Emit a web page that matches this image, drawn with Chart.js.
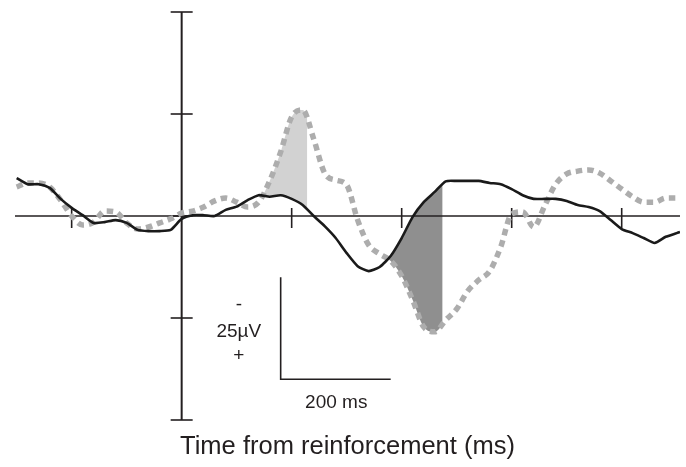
<!DOCTYPE html>
<html><head><meta charset="utf-8">
<script src="https://cdn.jsdelivr.net/npm/chart.js@4.4.1/dist/chart.umd.min.js"></script>
<style>html,body{margin:0;padding:0;background:#fff;}canvas{display:block;}</style>
</head><body>
<canvas id="c" width="686" height="467"></canvas>
<script>
// time (ms) of each sample
const times = [-300,-280,-260,-240,-220,-200,-180,-160,-140,-120,-100,-80,-60,-40,-20,0,20,40,60,80,100,120,140,160,180,200,220,240,260,280,300,320,340,360,380,400,420,440,460,480,500,520,540,560,580,600,620,640,660,680,700,720,740,760,780,800,820,840,860,880,900,906];
// solid black waveform (µV, negative plotted up)
const solidValues = [-9.3,-7.8,-7.8,-6.9,-4.2,-2.0,-0.2,1.7,1.5,1.0,1.7,3.4,3.7,3.7,3.4,0.7,-0.2,-0.2,0,-1.5,-2.3,-3.9,-5.1,-4.7,-5.1,-4.2,-2.7,0,2.5,5.4,9.1,12.3,13.5,12.5,9.8,5.4,0.2,-3.4,-5.9,-8.5,-8.6,-8.6,-8.6,-8.1,-7.8,-6.6,-5.1,-4.2,-4.2,-4.2,-3.7,-2.7,-2.2,-1.2,1.0,3.2,4.2,5.4,6.6,5.1,4.2,3.9];
// dashed grey waveform (µV)
const dashedValues = [-7.1,-8.1,-8.1,-7.1,-3.9,0,2.2,1.5,-1.2,-1.0,1.7,3.2,2.7,1.7,0.7,-0.7,-1.2,-2.2,-3.7,-4.4,-3.4,-2.2,-3.4,-8.6,-15.7,-24.3,-26.0,-18.9,-10.5,-8.8,-7.6,1.0,7.1,9.3,11.0,14.7,20.6,27.2,28.4,25.5,22.8,18.4,15.7,13.5,7.6,-0.5,-1.0,2.7,-2.5,-7.8,-10.3,-11.0,-11.3,-10.5,-8.6,-6.6,-4.7,-3.4,-3.4,-4.4,-4.4,-4.4];
// axis ticks
const yTickValues = [-50,-25,0,25,50];
const xTickValues = [-200,200,400,600,800];
// shaded windows (ms)
const lightWindow = [147, 228];
const darkWindow = [375, 474];
// calibration bar
const barStartTime = 180, barTimeLength = 200;
const barStartVolt = 15, barVoltLength = 25;
const barLabels = ['-', '25\u00b5V', '+'];
const barTimeLabel = '200 ms';
const xTitle = 'Time from reinforcement (ms)';

const FONT = 'Liberation Sans, Arial, Helvetica, sans-serif';
const INK = '#231f20';

const erpPlugin = {
  id: 'erpAxes',
  afterDatasetDraw(chart, args) {
    if (args.index !== 2) return;
    const {ctx, chartArea: a, scales: {x}} = chart;
    ctx.save();
    ctx.beginPath();
    const l0 = x.getPixelForValue(lightWindow[0]), l1 = x.getPixelForValue(lightWindow[1]);
    const d0 = x.getPixelForValue(darkWindow[0]), d1 = x.getPixelForValue(darkWindow[1]);
    ctx.rect(l0, a.top, l1 - l0, a.bottom - a.top);
    ctx.rect(d0, a.top, d1 - d0, a.bottom - a.top);
    ctx.clip();
  },
  beforeDatasetDraw(chart, args) {
    if (args.index !== 1) return;
    const {ctx, chartArea: a, scales: {x, y}} = chart;
    ctx.restore();
    ctx.save();
    ctx.strokeStyle = INK;
    const x0 = x.getPixelForValue(0), y0 = y.getPixelForValue(0);
    // horizontal axis
    ctx.lineWidth = 1.6;
    ctx.beginPath(); ctx.moveTo(a.left, y0); ctx.lineTo(a.right, y0); ctx.stroke();
    xTickValues.forEach(t => {
      const px = x.getPixelForValue(t);
      ctx.beginPath(); ctx.moveTo(px, y0 - 8); ctx.lineTo(px, y0 + 12); ctx.stroke();
    });
    // vertical axis
    ctx.lineWidth = 2;
    ctx.beginPath(); ctx.moveTo(x0, y.getPixelForValue(yTickValues[0])); ctx.lineTo(x0, y.getPixelForValue(yTickValues[yTickValues.length-1])); ctx.stroke();
    ctx.lineWidth = 1.6;
    yTickValues.forEach(v => {
      const py = y.getPixelForValue(v);
      ctx.beginPath(); ctx.moveTo(x0 - 11, py); ctx.lineTo(x0 + 11, py); ctx.stroke();
    });
    ctx.restore();
  },
  afterDatasetsDraw(chart) {
    const {ctx, scales: {x, y}} = chart;
    ctx.save();
    ctx.fillStyle = INK;
    ctx.font = '19px ' + FONT;
    ctx.textAlign = 'center';
    ctx.textBaseline = 'middle';
    const lx = x.getPixelForValue(104);
    ctx.fillText(barLabels[0], lx, y.getPixelForValue(21.8));
    ctx.fillText(barLabels[1], lx, y.getPixelForValue(28.4));
    ctx.fillText(barLabels[2], lx, y.getPixelForValue(34.2));
    ctx.fillText(barTimeLabel, x.getPixelForValue(281), y.getPixelForValue(45.8));
    ctx.restore();
  }
};

new Chart(document.getElementById('c'), {
  type: 'line',
  data: {
    datasets: [
      { label: 'solid', data: times.map((t, i) => ({x: t, y: solidValues[i]})),
        borderColor: '#1a1a1a', borderWidth: 2.6, pointRadius: 0, tension: 0.2, fill: false },
      { label: 'dashed', data: times.map((t, i) => ({x: t, y: dashedValues[i]})),
        borderColor: '#adadad', borderWidth: 5.5, borderDash: [6.5, 5], borderCapStyle: 'butt',
        pointRadius: 0, cubicInterpolationMode: 'monotone',
        fill: { target: 0, above: '#d2d2d2', below: '#8f8f8f' } },
      { label: 'bar', data: [
          {x: barStartTime, y: barStartVolt},
          {x: barStartTime, y: barStartVolt + barVoltLength},
          {x: barStartTime + barTimeLength, y: barStartVolt + barVoltLength}],
        borderColor: INK, borderWidth: 1.6, pointRadius: 0, tension: 0, fill: false }
    ]
  },
  options: {
    responsive: false, animation: false,
    layout: { padding: { left: 15, right: 6, top: 12, bottom: 4.8 } },
    scales: {
      x: { type: 'linear', min: -303, max: 906, display: false },
      y: { type: 'linear', min: -50, max: 50, reverse: true, display: false }
    },
    plugins: {
      legend: { display: false },
      tooltip: { enabled: false },
      title: { display: true, position: 'bottom', text: xTitle, color: INK,
        font: { family: FONT, size: 25.5, weight: 'normal' }, padding: { top: 11.6, bottom: 0 } }
    }
  },
  plugins: [erpPlugin]
});
</script>
</body></html>
